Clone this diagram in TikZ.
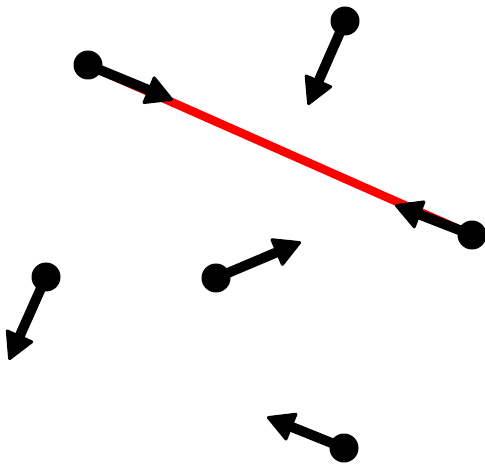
\documentclass[tikz,border=0pt]{standalone}
\usetikzlibrary{arrows.meta}
\begin{document}
\begin{tikzpicture}[
  x=1pt, y=-1pt,
  dot/.style={circle, fill=black, inner sep=0pt, minimum size=29pt},
  vec/.style={-{Triangle[length=29pt,width=31pt,line width=3pt,round]}, line width=10pt},
  link/.style={red, line width=8.5pt}
]
\useasboundingbox (0,0) rectangle (485,465);
% particle positions
\coordinate (a) at (88,65);
\coordinate (b) at (472,235);
\coordinate (c) at (345,21);
\coordinate (d) at (46,277);
\coordinate (e) at (216,278);
\coordinate (f) at (344,448);
% velocity tips
\coordinate (ta) at (173,100);
\coordinate (tb) at (395,205);
\coordinate (tc) at (308,105);
\coordinate (td) at (9,360);
\coordinate (te) at (301,242);
\coordinate (tf) at (267,417);
\draw[link] (a) -- (b);
\foreach \p in {a,b,c,d,e,f}
  \draw[vec] (\p) -- (t\p);
\foreach \p in {a,b,c,d,e,f}
  \node[dot] (p\p) at (\p) {};
\end{tikzpicture}
\end{document}
